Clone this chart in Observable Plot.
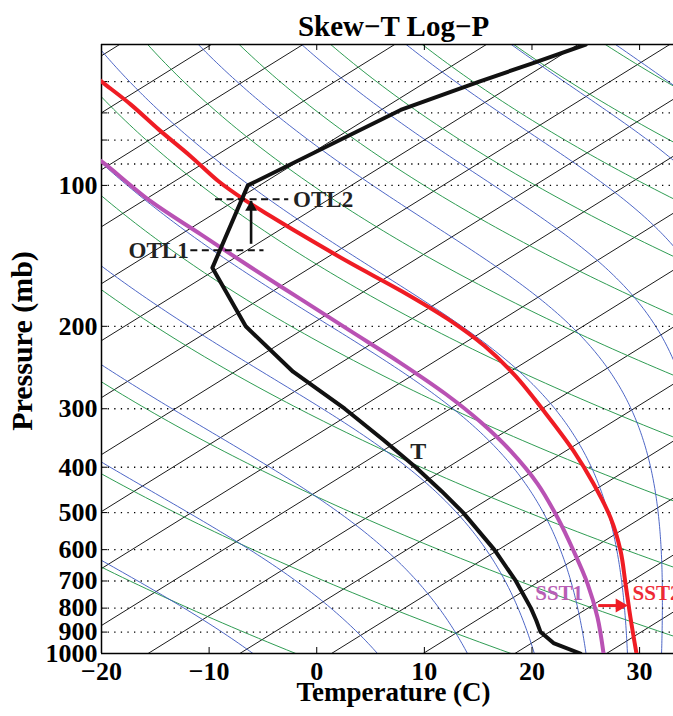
<!DOCTYPE html>
<html><head><meta charset="utf-8">
<script src="https://cdn.jsdelivr.net/npm/d3@7"></script>
<script src="https://cdn.jsdelivr.net/npm/@observablehq/plot@0.6"></script>
<style>body{margin:0;background:#fff}</style>
</head><body><div id="chart"></div>
<script>
// ---------- data ----------
// environmental temperature profile T: pressure (mb) and skew-axis temperature (C)
const envP = [1000, 950, 900, 850, 800, 700, 600, 500, 450, 400, 350, 300, 250, 200, 150, 100, 69, 60, 55, 50];
const envT = [24.5, 22.0, 20.8, 20.4, 19.9, 18.5, 16.5, 13.6, 11.6, 9.2, 6.2, 2.6, -2.2, -6.6, -9.7, -6.4, 7.8, 15.1, 19.9, 25.0];
// parcel curve from SST1 (magenta)
const sst1P = [1000, 837.8, 709.1, 603.3, 512.9, 434.0, 369.1, 320.2, 279.0, 239.6, 204.8, 175.0, 149.6, 127.2, 108.2, 88.9, 86];
const sst1T = [26.65, 26.09, 25.16, 23.86, 22.38, 20.52, 18.01, 15.23, 11.98, 7.80, 3.16, -1.49, -6.13, -10.77, -15.41, -20.0, -21.0];
// parcel curve from SST2 (red)
const sst2P = [1000, 837.8, 709.1, 603.3, 512.9, 434.0, 369.1, 303.3, 255.5, 220.4, 193.1, 168.3, 146.7, 127.2, 116.4, 107.1, 98.1, 86.7, 76.0, 67.2, 60.0, 57];
const sst2T = [29.71, 29.15, 28.69, 28.23, 27.30, 25.72, 23.86, 21.1, 18.48, 15.6, 12.2, 7.9, 3.16, -1.48, -4.27, -6.78, -9.10, -11.70, -14.67, -17.27, -20.0, -21.2];
// background families
const isothermAt1000 = [26.93, 18.41, 9.89, 1.37, -7.15, -15.67, -24.19, -32.71, -41.23, -49.75, -58.27, -66.79, -75.31, -83.83, -92.35, -100.87, -109.39];
const dryTheta = [271.2, 291.2, 311.2, 331.2, 351.2, 371.2, 391.2, 411.2, 431.2, 451.2, 471.2, 491.2, 511.2];
const moistThetaE = [273.4, 293.4, 313.4, 333.4, 353.4, 373.4, 393.4, 413.4, 433.4, 453.4, 473.4, 493.4, 513.4];
const skewPerDecade = 70;
// axes
const xTicks = [-20, -10, 0, 10, 20, 30];
const yTicks = [100, 200, 300, 400, 500, 600, 700, 800, 900, 1000];
const gridP = [60, 70, 80, 90, 100, 200, 300, 400, 500, 600, 700, 800, 900];
// annotations
const otlLines = [{p: 137.6, x1: -11.7, x2: -4.9}, {p: 107.1, x1: -9.4, x2: -2.6}];
const otlLeft = [{label: "OTL1", p: 137.6, x: -11.9}];
const otlRight = [{label: "OTL2", p: 107.1, x: -2.2}];
const otlArrow = {x: -6.1, pFrom: 133.6, pTo: 108.2};
const sstArrow = {p: 790, x1: 26.2, x2: 27.9, tip: 28.9};
const sstLabels = [{label: "SST1", x: 20.3, p: 745, color: "#b85fb5"}, {label: "SST2", x: 29.35, p: 745, color: "#ee2a36"}];
const tLabel = [{label: "T", x: 8.7, p: 369}];

// ---------- reference curves of the diagram ----------
const Rd = 287.04, cp = 1005.7, Lv = 2.501e6, eps = 0.622, kappa = Rd / cp;
const skew = p => skewPerDecade * Math.log10(1000 / p);
const es = Tk => 6.112 * Math.exp(17.67 * (Tk - 273.15) / (Tk - 29.65));
const rs = (Tk, p) => { const e = es(Tk); return eps * e / (p - e); };
const thetaE = (Tk, p) => Tk * Math.pow(1000 / p, kappa) * Math.exp(Lv * rs(Tk, p) / (cp * Tk));
function t1000(te) { let lo = 200, hi = 340; for (let i = 0; i < 60; i++) { const m = (lo + hi) / 2; if (thetaE(m, 1000) < te) lo = m; else hi = m; } return (lo + hi) / 2; }
const dTdlnp = (Tk, p) => { const r = rs(Tk, p); return (Rd * Tk + Lv * r) / (cp + Lv * Lv * r * eps / (Rd * Tk * Tk)); };
const pSamples = d3.range(0, 161).map(i => 1000 * Math.pow(50 / 1000, i / 160));
const isoLines = isothermAt1000.flatMap((x0, id) => [1000, 50].map(p => ({id, p, x: x0 + skew(p)})));
const dryLines = dryTheta.flatMap((th, id) => pSamples.map(p => ({id, p, x: th * Math.pow(p / 1000, kappa) - 273.15 + skew(p)})));
const moistLines = moistThetaE.flatMap((te, id) => {
  const N = 240, l0 = Math.log(1000), l1 = Math.log(50), h = (l1 - l0) / N;
  let T = t1000(te); const out = [];
  for (let i = 0; i <= N; i++) {
    const lp = l0 + i * h, p = Math.exp(lp);
    out.push({id, p, x: T - 273.15 + skew(p)});
    const f = (t, l) => dTdlnp(t, Math.exp(l));
    const k1 = f(T, lp), k2 = f(T + h * k1 / 2, lp + h / 2), k3 = f(T + h * k2 / 2, lp + h / 2), k4 = f(T + h * k3, lp + h);
    T += h * (k1 + 2 * k2 + 2 * k3 + k4) / 6;
  }
  return out;
});

const zip = (P, T) => P.map((p, i) => ({p, x: T[i]}));
const env = zip(envP, envT), sst1 = zip(sst1P, sst1T), sst2 = zip(sst2P, sst2T);
const fmt = d => d < 0 ? "\u2212" + Math.abs(d) : String(d);
const font = '"Liberation Serif", "Times New Roman", serif';

const chart = Plot.plot({
  width: 673, height: 716,
  marginLeft: 101, marginRight: 0, marginTop: 44, marginBottom: 63,
  style: {fontFamily: font, fontWeight: "bold", fontSize: "26px", background: "#fff", color: "#000", overflow: "hidden"},
  x: {domain: [-20, 33.15], ticks: xTicks, tickSize: 0, tickPadding: 8, label: null, tickFormat: fmt},
  y: {type: "log", domain: [1000, 50], axis: null},
  marks: [
    Plot.line(isoLines, {x: "x", y: "p", z: "id", stroke: "#000", strokeWidth: 0.9, clip: true}),
    Plot.line(dryLines, {x: "x", y: "p", z: "id", stroke: "#17913f", strokeWidth: 0.9, clip: true}),
    Plot.line(moistLines, {x: "x", y: "p", z: "id", stroke: "#3a56c0", strokeWidth: 0.9, clip: true}),
    Plot.ruleY(gridP, {stroke: "#000", strokeWidth: 1.3, strokeDasharray: "1.3,5.3"}),
    Plot.ruleX([-20], {stroke: "#000", strokeWidth: 1.5}),
    Plot.ruleY([1000, 50], {stroke: "#000", strokeWidth: 1.3}),
    Plot.tickX(xTicks.slice(1), {x: d => d, insetTop: 603, stroke: "#000"}),
    Plot.tickX(xTicks.slice(1), {x: d => d, insetBottom: 603, stroke: "#000"}),
    Plot.tickY(gridP, {y: d => d, insetRight: 566, stroke: "#000"}),
    Plot.text(yTicks, {y: d => d, frameAnchor: "left", text: d => String(d), textAnchor: "end", dx: -4, fontSize: 26}),
    Plot.line(sst1, {x: "x", y: "p", stroke: "#b952b4", strokeWidth: 4, curve: "catmull-rom", clip: true}),
    Plot.line(sst2, {x: "x", y: "p", stroke: "#ef1c24", strokeWidth: 4, curve: "catmull-rom", clip: true}),
    Plot.line(env, {x: "x", y: "p", stroke: "#111", strokeWidth: 4, clip: true}),
    // annotations
    Plot.ruleY(otlLines, {y: "p", x1: "x1", x2: "x2", stroke: "#111", strokeWidth: 2, strokeDasharray: "7,4.5"}),
    Plot.text(otlLeft, {x: "x", y: "p", text: "label", textAnchor: "end", fontSize: 23, fill: "#222"}),
    Plot.text(otlRight, {x: "x", y: "p", text: "label", textAnchor: "start", fontSize: 23, fill: "#222"}),
    Plot.ruleX([otlArrow], {x: "x", y1: "pFrom", y2: "pTo", stroke: "#111", strokeWidth: 2.6}),
    Plot.dot([otlArrow], {x: "x", y: "pTo", symbol: "triangle", r: 4.4, fill: "#111", stroke: "none", dy: 6}),
    Plot.ruleY([sstArrow], {y: "p", x1: "x1", x2: "x2", stroke: "#ef1c24", strokeWidth: 3}),
    Plot.dot([sstArrow], {x: "tip", y: "p", symbol: "triangle", rotate: 90, r: 5.2, fill: "#ef1c24", stroke: "none", dx: -8}),
    Plot.text(sstLabels, {x: "x", y: "p", text: "label", fill: "color", textAnchor: "start", fontSize: 21}),
    Plot.text(tLabel, {x: "x", y: "p", text: "label", textAnchor: "start", fontSize: 24, fill: "#222"}),
    // titles
    Plot.text(["Skew\u2212T Log\u2212P"], {frameAnchor: "top", dy: -29, dx: 6, fontSize: 29}),
    Plot.text(["Temperature (C)"], {frameAnchor: "bottom", dy: 47, dx: 6, fontSize: 27}),
    Plot.text(["Pressure (mb)"], {frameAnchor: "left", textAnchor: "middle", rotate: -90, dx: -79, dy: -8, fontSize: 30})
  ]
});
document.getElementById("chart").appendChild(chart);
</script>
</body></html>
